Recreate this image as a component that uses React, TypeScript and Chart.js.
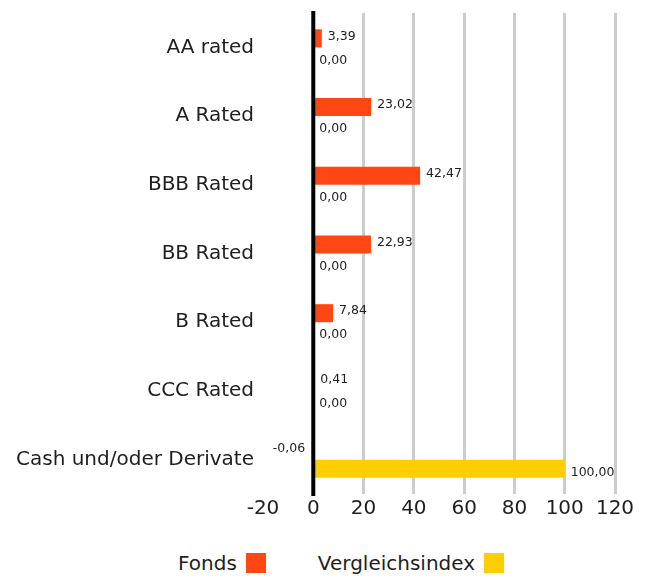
import React, { useEffect, useRef } from "react";
import { Chart, registerables } from "chart.js";

Chart.register(...registerables);

const categories = [
  "AA rated",
  "A Rated",
  "BBB Rated",
  "BB Rated",
  "B Rated",
  "CCC Rated",
  "Cash und/oder Derivate",
];
const fondsValues = [3.39, 23.02, 42.47, 22.93, 7.84, 0.41, -0.06];
const indexValues = [0, 0, 0, 0, 0, 0, 100];
const seriesNames = ["Fonds", "Vergleichsindex"];
const seriesColors = ["#ff4713", "#ffce00"];
const xTicks = [-20, 0, 20, 40, 60, 80, 100, 120];

const FONT = "'DejaVu Sans', sans-serif";
const TEXT = "#1e1e1e";

const fmt = (v: number) => v.toFixed(2).replace(".", ",");

const labelsPlugin = {
  id: "valueLabels",
  afterDatasetsDraw(chart: any) {
    const ctx = chart.ctx;
    ctx.save();
    ctx.font = `12.5px ${FONT}`;
    ctx.fillStyle = TEXT;
    ctx.textBaseline = "middle";
    chart.data.datasets.forEach((ds: any, di: number) => {
      const meta = chart.getDatasetMeta(di);
      meta.data.forEach((el: any, i: number) => {
        const v = ds.data[i] as number;
        const y = el.y + (di === 0 ? -2 : 4);
        if (v >= 0) {
          ctx.textAlign = "left";
          ctx.fillText(fmt(v), el.x + 6, y);
        } else {
          ctx.textAlign = "right";
          ctx.fillText(fmt(v), el.x - 8, y);
        }
      });
    });
    ctx.restore();
  },
};

const zeroLinePlugin = {
  id: "zeroLine",
  afterDatasetsDraw(chart: any) {
    const { ctx, chartArea, scales } = chart;
    const x = scales.x.getPixelForValue(0);
    ctx.save();
    ctx.strokeStyle = "#000";
    ctx.lineWidth = 4;
    ctx.beginPath();
    ctx.moveTo(x, chartArea.top - 2);
    ctx.lineTo(x, chartArea.bottom + 2);
    ctx.stroke();
    ctx.restore();
  },
};

export default function App() {
  const ref = useRef<HTMLCanvasElement | null>(null);

  useEffect(() => {
    if (!ref.current) return;
    const chart = new Chart(ref.current, {
      type: "bar",
      data: {
        labels: categories,
        datasets: [
          {
            label: seriesNames[0],
            data: fondsValues,
            backgroundColor: seriesColors[0],
            categoryPercentage: 0.525,
            barPercentage: 1,
          },
          {
            label: seriesNames[1],
            data: indexValues,
            backgroundColor: seriesColors[1],
            categoryPercentage: 0.525,
            barPercentage: 1,
          },
        ],
      },
      options: {
        indexAxis: "y",
        animation: false,
        responsive: true,
        maintainAspectRatio: false,
        layout: { padding: { top: 5, right: 28, left: 0, bottom: 0 } },
        plugins: {
          legend: { display: false },
          tooltip: { enabled: false },
        },
        scales: {
          x: {
            min: -20,
            max: 120,
            afterBuildTicks: (scale: any) => {
              scale.ticks = xTicks.map((v) => ({ value: v }));
            },
            afterFit: (scale: any) => {
              scale.height = 44;
            },
            border: { display: false },
            grid: {
              drawTicks: false,
              color: (c: any) =>
                c.tick && (c.tick.value === 0 || c.tick.value === -20)
                  ? "rgba(0,0,0,0)"
                  : "#cccccc",
              lineWidth: 3,
            },
            ticks: {
              padding: 3,
              color: TEXT,
              font: { family: FONT, size: 20 },
              callback: (v: any) => String(v),
            },
          },
          y: {
            afterFit: (scale: any) => {
              scale.width = 255;
              scale.paddingTop = 0;
              scale.paddingBottom = 0;
            },
            border: { display: false },
            grid: { display: false, drawTicks: false },
            ticks: {
              padding: 9,
              color: TEXT,
              font: { family: FONT, size: 20 },
            },
          },
        },
      },
      plugins: [labelsPlugin, zeroLinePlugin],
    });
    return () => chart.destroy();
  }, []);

  return (
    <div style={{ width: 635 }}>
      <div style={{ position: "relative", width: 635, height: 530 }}>
        <canvas ref={ref} />
      </div>
      <div
        style={{
          display: "flex",
          alignItems: "center",
          height: 50,
          paddingLeft: 170,
          fontFamily: FONT,
          fontSize: 20,
          color: TEXT,
        }}
      >
        {seriesNames.map((n, i) => (
          <div
            key={n}
            style={{ display: "flex", alignItems: "center", marginLeft: i === 0 ? 0 : 52 }}
          >
            <span>{n}</span>
            <span
              style={{
                display: "inline-block",
                width: 20,
                height: 20,
                marginLeft: 9,
                background: seriesColors[i],
              }}
            />
          </div>
        ))}
      </div>
    </div>
  );
}
